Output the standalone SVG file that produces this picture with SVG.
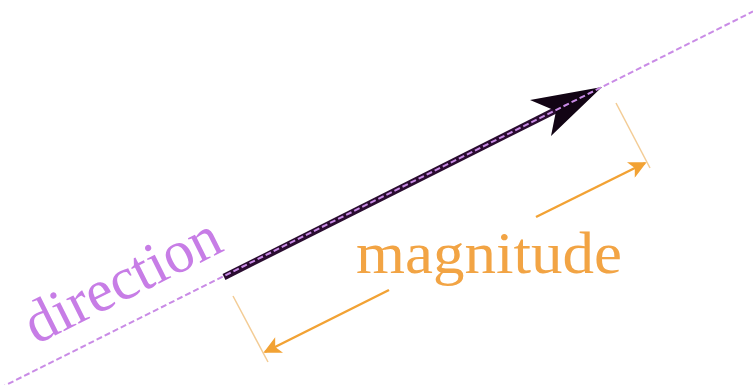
<svg xmlns="http://www.w3.org/2000/svg" width="753" height="385" viewBox="0 0 753 385">
<style>
.dir{stroke:#c98be6;stroke-width:2;stroke-dasharray:6 3;fill:none}
.ext{stroke:#f3cc95;stroke-width:1.5;fill:none}
.dim{stroke:#f2a234;stroke-width:2.5;fill:none}
.lbl{font-family:"Gabriola","Liberation Serif",serif}
</style>
<defs>
<marker id="oa" viewBox="0 0 10 10" refX="9" refY="5" markerWidth="8.5" markerHeight="7" markerUnits="strokeWidth" orient="auto">
<path d="M0,0 L10,5 L0,10 L2.5,5 Z" fill="#f2a234"/>
</marker>
</defs>
<g id="vector">
<line x1="224" y1="277" x2="570" y2="103" stroke="#2a0c30" stroke-width="6.5"/>
<path d="M602,87 L530,100 L556,111 L551,136 Z" fill="#120414"/>
</g>
<g id="direction">
<line class="dir" x1="0" y1="388" x2="753" y2="11.5"/>
<text class="lbl" x="0" y="0" font-size="60" fill="#c77de6" textLength="212" lengthAdjust="spacingAndGlyphs" transform="translate(36,345) rotate(-26.6)">direction</text>
</g>
<g id="magnitude">
<line class="ext" x1="233" y1="296" x2="268" y2="362"/>
<line class="ext" x1="616" y1="103" x2="650" y2="168"/>
<text class="lbl" x="356" y="273" font-size="60" fill="#f2a444" textLength="266" lengthAdjust="spacingAndGlyphs">magnitude</text>
</g>
<g id="connectors">
<line class="dim" x1="389" y1="290" x2="265" y2="352" marker-end="url(#oa)"/>
<line class="dim" x1="536" y1="217" x2="645" y2="163" marker-end="url(#oa)"/>
</g>
</svg>
